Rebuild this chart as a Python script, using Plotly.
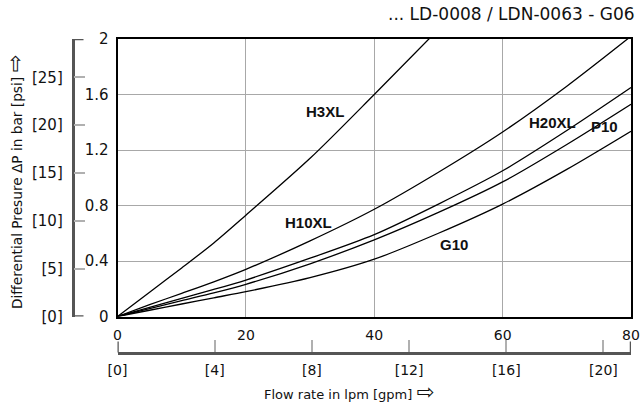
import plotly.graph_objects as go

# flow rate in lpm, pressure drop in bar
flow = [0, 5, 10, 15, 20, 30, 40, 50, 60, 70, 80]
dp_h3xl = [0, 0.175, 0.35, 0.53, 0.73, 1.14, 1.60, 2.07, None, None, None]
dp_h10xl = [0, 0.085, 0.167, 0.25, 0.34, 0.545, 0.773, 1.04, 1.33, 1.66, 2.02]
dp_h20xl = [0, 0.066, 0.131, 0.195, 0.263, 0.42, 0.59, 0.81, 1.05, 1.34, 1.65]
dp_p10 = [0, 0.057, 0.114, 0.17, 0.232, 0.38, 0.552, 0.75, 0.97, 1.24, 1.53]
dp_g10 = [0, 0.045, 0.09, 0.135, 0.179, 0.28, 0.413, 0.60, 0.81, 1.06, 1.335]

series = {'H3XL': dp_h3xl, 'H10XL': dp_h10xl, 'H20XL': dp_h20xl, 'P10': dp_p10, 'G10': dp_g10}

# curve labels (lpm, bar)
label_names = ['H3XL', 'H10XL', 'H20XL', 'P10', 'G10']
label_x = [32.4, 29.8, 67.8, 75.9, 52.4]
label_y = [1.48, 0.68, 1.40, 1.37, 0.52]

bar_ticks = [0, 0.4, 0.8, 1.2, 1.6, 2]
bar_text = ['0', '0.4', '0.8', '1.2', '1.6', '2']
psi_ticks = [0, 5, 10, 15, 20, 25]
gpm_ticks = [0, 4, 8, 12, 16, 20]

BAR_PER_PSI = 0.0689476
LPM_PER_GPM = 3.78541

FONT = 'DejaVu Sans'
W, H = 640, 412
ML, MR, MT, MB = 60, 9, 39, 55
pw, ph = W - ML - MR, H - MT - MB
x_dom0 = (117.5 - ML) / pw
y_dom0 = (H - MB - 316.5) / ph
psi_pos = (72.5 - ML) / pw
gpm_pos = (H - MB - 352.5) / ph

ARROW = '<span style="font-size:21px">⇨</span>'

fig = go.Figure()

for name, vals in series.items():
    fig.add_trace(go.Scatter(
        x=flow, y=vals, mode='lines', name=name,
        line=dict(color='black', width=1.3, shape='spline', smoothing=0.8),
        showlegend=False, connectgaps=False,
    ))

# invisible trace so the secondary axes get drawn
fig.add_trace(go.Scatter(x=[0], y=[0], xaxis='x2', yaxis='y2', mode='markers',
                         marker=dict(opacity=0), showlegend=False, hoverinfo='skip'))

for name, lx, ly in zip(label_names, label_x, label_y):
    fig.add_annotation(x=lx, y=ly, text='<b>%s</b>' % name, showarrow=False,
                       font=dict(family='Liberation Sans', size=15, color='#111'))

fig.add_annotation(text='... LD-0008 / LDN-0063 - G06', xref='paper', yref='paper',
                   x=1, y=1, xanchor='right', yanchor='middle', xshift=6, yshift=25,
                   showarrow=False, font=dict(family=FONT, size=17, color='#111'))
fig.add_annotation(text='Differential Presure ΔP in bar [psi] ' + ARROW, xref='paper', yref='paper',
                   x=(15 - ML) / pw, y=(H - MB - 182) / ph, textangle=-90,
                   xanchor='center', yanchor='middle',
                   showarrow=False, font=dict(family=FONT, size=13.7, color='#111'))
fig.add_annotation(text='Flow rate in lpm [gpm] ' + ARROW, xref='paper', yref='paper',
                   x=(349 - ML) / pw, y=(H - MB - 392) / ph,
                   xanchor='center', yanchor='middle',
                   showarrow=False, font=dict(family=FONT, size=13, color='#111'))

# bracket feet at the ends of the secondary axes
foot_x = 11 / pw
foot_y = 11 / ph
for yv in [0, 2]:
    fig.add_shape(type='line', xref='paper', yref='y', x0=psi_pos, x1=psi_pos + foot_x,
                  y0=yv, y1=yv, line=dict(color='#555', width=2.5), layer='above')
for xv in [0, 80]:
    fig.add_shape(type='line', xref='x', yref='paper', x0=xv, x1=xv,
                  y0=gpm_pos, y1=gpm_pos + foot_y, line=dict(color='#555', width=2.5), layer='above')

fig.update_layout(
    width=W, height=H,
    margin=dict(l=ML, r=MR, t=MT, b=MB),
    plot_bgcolor='white', paper_bgcolor='white',
    font=dict(family=FONT, size=14, color='#111'),
    xaxis=dict(domain=[x_dom0, 1], range=[0, 80], tickvals=[0, 20, 40, 60, 80],
               showgrid=True, gridcolor='#a8a8a8', gridwidth=1,
               showline=True, linecolor='black', linewidth=2, mirror=True,
               ticks='', zeroline=False, ticklabelstandoff=5,
               tickfont=dict(size=14), automargin=False),
    yaxis=dict(domain=[y_dom0, 1], range=[0, 2], tickvals=bar_ticks, ticktext=bar_text,
               showgrid=True, gridcolor='#a8a8a8', gridwidth=1,
               showline=True, linecolor='black', linewidth=2, mirror=True,
               ticks='', zeroline=False, ticklabelstandoff=4,
               tickfont=dict(size=15), automargin=False),
    xaxis2=dict(overlaying='x', anchor='free', position=gpm_pos, domain=[x_dom0, 1],
                range=[0, 80 / LPM_PER_GPM], tickvals=gpm_ticks,
                ticktext=['[%d]' % v for v in gpm_ticks], side='bottom',
                ticks='inside', ticklen=12, tickwidth=2, tickcolor='#b0b0b0',
                showline=True, linecolor='#555', linewidth=2.5, showgrid=False,
                zeroline=False, ticklabelstandoff=4, tickfont=dict(size=14),
                automargin=False),
    yaxis2=dict(overlaying='y', anchor='free', position=psi_pos, side='left',
                range=[0, 2 / BAR_PER_PSI], tickvals=psi_ticks,
                ticktext=['[%d]' % v for v in psi_ticks],
                ticks='inside', ticklen=11, tickwidth=2, tickcolor='#b0b0b0',
                showline=True, linecolor='#555', linewidth=2.5, showgrid=False,
                zeroline=False, ticklabelstandoff=6, tickfont=dict(size=15),
                automargin=False),
)

fig.write_html('out.html', config={'displayModeBar': False},
               post_script="document.body.style.margin='0px';")
